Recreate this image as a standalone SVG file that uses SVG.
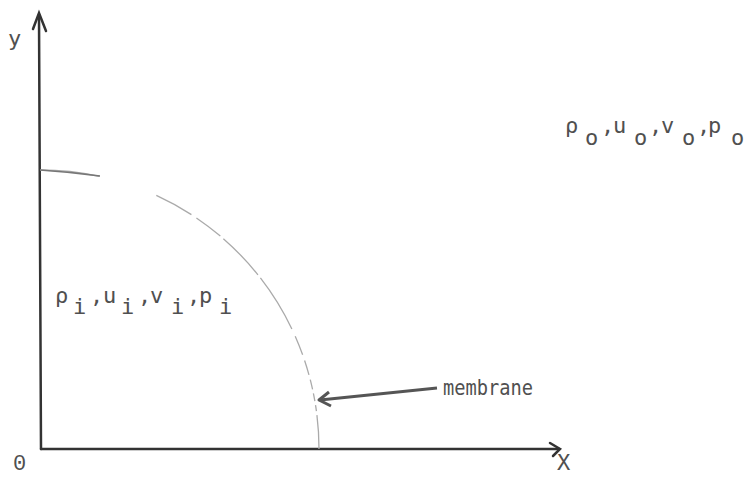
<svg xmlns="http://www.w3.org/2000/svg" width="748" height="497" viewBox="0 0 748 497">
<style>
.t{font-family:"DejaVu Sans Mono","Liberation Mono",monospace;fill:#505050;font-size:22px}
.z{font-family:"Liberation Mono","DejaVu Sans Mono",monospace}
.ax{stroke:#333;stroke-width:2.5;fill:none;stroke-linecap:round}
.arc{stroke:#aaa;stroke-width:1.3;fill:none}
</style>
<rect width="748" height="497" fill="#fff"/>
<g id="connectors">
<path class="ax" d="M41,449 L39,15"/>
<path class="ax" d="M33,29 L39,13 L46,31"/>
<path class="ax" d="M41,449 L559,449"/>
<path class="ax" d="M550,443 L560,449 L553,456"/>
<path class="arc" d="M40,170 A279,279 0 0 1 319,449" stroke-dasharray="60 60 40 6 30 4 50 4 60 8 20 6 15 5 10 4 8 4 6 4"/>
<path d="M40,170 Q70,172 100,176" stroke="#777" stroke-width="1.3" fill="none"/>
<path d="M437,388 L320,400" stroke="#555" stroke-width="3" fill="none"/>
<path d="M329,392 L319,400 L331,406" stroke="#555" stroke-width="3" fill="none" stroke-linejoin="round"/>
</g>
<g id="axis-labels">
<text class="t" x="8" y="46">y</text>
<text class="t z" x="13" y="470">0</text>
<text class="t" x="557" y="470">X</text>
</g>
<g id="outer">
<text class="t" y="133"><tspan x="565">ρ</tspan><tspan x="585" y="145">o</tspan><tspan x="601" y="133">,</tspan><tspan x="613">u</tspan><tspan x="634" y="145">o</tspan><tspan x="649" y="133">,</tspan><tspan x="661">v</tspan><tspan x="682" y="145">o</tspan><tspan x="697" y="133">,</tspan><tspan x="708">p</tspan><tspan x="731" y="145">o</tspan></text>
</g>
<g id="inner">
<text class="t" y="303"><tspan x="55">ρ</tspan><tspan x="73" y="314">i</tspan><tspan x="90" y="303">,</tspan><tspan x="103">u</tspan><tspan x="121" y="314">i</tspan><tspan x="138" y="303">,</tspan><tspan x="150">v</tspan><tspan x="171" y="314">i</tspan><tspan x="187" y="303">,</tspan><tspan x="199">p</tspan><tspan x="219" y="314">i</tspan></text>
</g>
<g id="membrane">
<text class="t" x="443" y="395" textLength="90" lengthAdjust="spacingAndGlyphs">membrane</text>
</g>
</svg>
